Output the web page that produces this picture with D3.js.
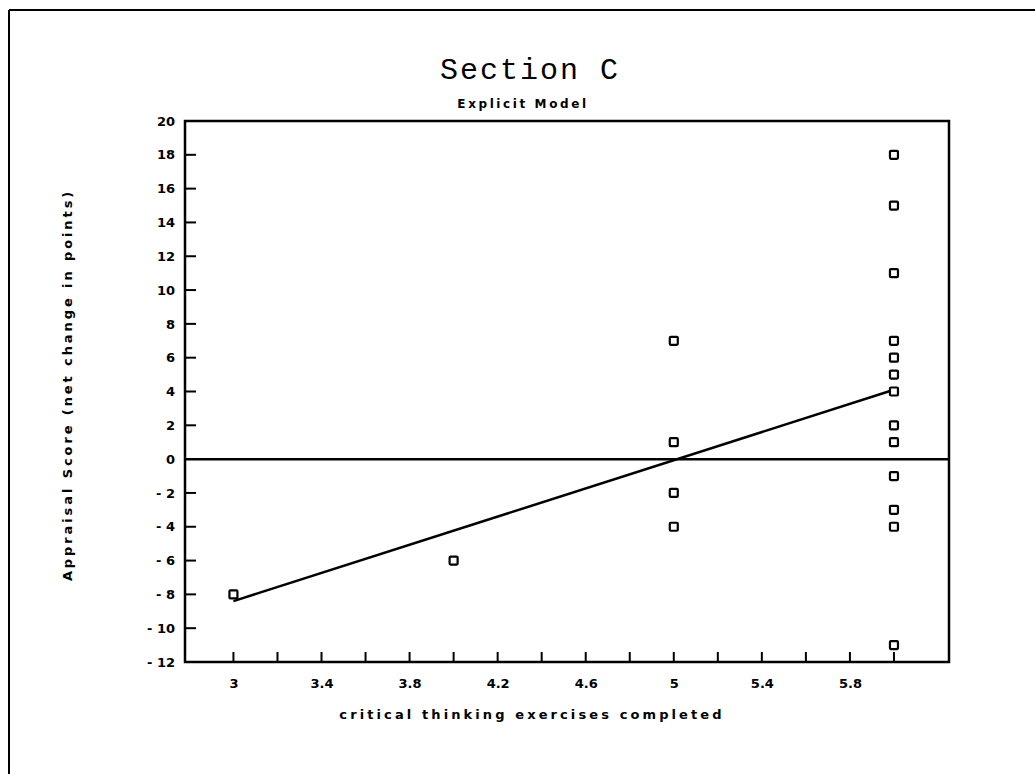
<!DOCTYPE html>
<html>
<head>
<meta charset="utf-8">
<script src="https://cdn.jsdelivr.net/npm/d3@7"></script>
<style>
  body { margin: 0; background: #fff; }
  text { fill: #000; }
</style>
</head>
<body>
<div id="chart"></div>
<script>
var WIDTH = 1035;
var HEIGHT = 774;

// data
var exercises = [3, 4, 5, 5, 5, 5, 6, 6, 6, 6, 6, 6, 6, 6, 6, 6, 6, 6, 6];
var scores = [-8, -6, 7, 1, -2, -4, 18, 15, 11, 7, 6, 5, 4, 2, 1, -1, -3, -4, -11];
var fitX = [3, 6];
var fitY = [-8.4, 4.1];
var xTickLabels = [3, 3.4, 3.8, 4.2, 4.6, 5, 5.4, 5.8];
var xMinorTicks = [3, 3.2, 3.4, 3.6, 3.8, 4, 4.2, 4.4, 4.6, 4.8, 5, 5.2, 5.4, 5.6, 5.8, 6];
var yTickLabels = [20, 18, 16, 14, 12, 10, 8, 6, 4, 2, 0, -2, -4, -6, -8, -10, -12];

var margin = {left: 185, top: 121, right: 949, bottom: 662};

var svg = d3.select("#chart").append("svg")
    .attr("width", WIDTH)
    .attr("height", HEIGHT);

var x = d3.scaleLinear().domain([2.78, 6.25]).range([margin.left, margin.right]);
var y = d3.scaleLinear().domain([-12, 20]).range([margin.bottom, margin.top]);

var labelFont = "'DejaVu Sans', sans-serif";

// outer border (runs off the page at right and bottom)
svg.append("line").attr("x1", 9).attr("y1", 10).attr("x2", 9).attr("y2", HEIGHT)
    .attr("stroke", "#000").attr("stroke-width", 2);
svg.append("line").attr("x1", 9).attr("y1", 10).attr("x2", WIDTH).attr("y2", 10)
    .attr("stroke", "#000").attr("stroke-width", 2);

// titles
svg.append("text")
    .attr("x", 530).attr("y", 79)
    .attr("text-anchor", "middle")
    .style("font-family", "'Liberation Mono', 'DejaVu Sans Mono', monospace")
    .style("font-size", "30px")
    .style("letter-spacing", "2px")
    .text("Section C");

svg.append("text")
    .attr("x", 523).attr("y", 108)
    .attr("text-anchor", "middle")
    .style("font-family", labelFont)
    .style("font-weight", "bold")
    .style("font-size", "12px")
    .style("letter-spacing", "2.6px")
    .text("Explicit Model");

// y axis
var yAxis = d3.axisLeft(y)
    .tickValues(yTickLabels)
    .tickSize(0)
    .tickPadding(10);

var gy = svg.append("g")
    .attr("transform", "translate(" + margin.left + ",0)")
    .call(yAxis);
gy.select(".domain").remove();
gy.selectAll("text")
    .style("font-family", labelFont)
    .style("font-weight", "bold")
    .style("font-size", "13px")
    .text(function(d) { return d < 0 ? "- " + Math.abs(d) : d; });

// inward y ticks
svg.append("g").selectAll("line")
    .data(yTickLabels.filter(function(d) { return d > -12 && d < 20 && d !== 0; }))
    .enter().append("line")
    .attr("x1", margin.left).attr("x2", margin.left + 11)
    .attr("y1", function(d) { return y(d); })
    .attr("y2", function(d) { return y(d); })
    .attr("stroke", "#000").attr("stroke-width", 2);

// x axis
var xAxis = d3.axisBottom(x)
    .tickValues(xTickLabels)
    .tickSize(0)
    .tickPadding(17)
    .tickFormat(function(d) { return d; });

var gx = svg.append("g")
    .attr("transform", "translate(0," + margin.bottom + ")")
    .call(xAxis);
gx.select(".domain").remove();
gx.selectAll("text")
    .style("font-family", labelFont)
    .style("font-weight", "bold")
    .style("font-size", "13px");

// inward x ticks
svg.append("g").selectAll("line")
    .data(xMinorTicks)
    .enter().append("line")
    .attr("x1", function(d) { return x(d); })
    .attr("x2", function(d) { return x(d); })
    .attr("y1", margin.bottom).attr("y2", margin.bottom - 10)
    .attr("stroke", "#000").attr("stroke-width", 2);

// plot frame
svg.append("rect")
    .attr("x", margin.left).attr("y", margin.top)
    .attr("width", margin.right - margin.left)
    .attr("height", margin.bottom - margin.top)
    .attr("fill", "none")
    .attr("stroke", "#000").attr("stroke-width", 2.5);

// zero line
svg.append("line")
    .attr("x1", margin.left).attr("x2", margin.right)
    .attr("y1", y(0)).attr("y2", y(0))
    .attr("stroke", "#000").attr("stroke-width", 2.5);

// fit line
var line = d3.line()
    .x(function(d) { return x(d[0]); })
    .y(function(d) { return y(d[1]); });

svg.append("path")
    .datum(d3.zip(fitX, fitY))
    .attr("d", line)
    .attr("fill", "none")
    .attr("stroke", "#000").attr("stroke-width", 2.5);

// points
svg.append("g").selectAll("rect")
    .data(d3.zip(exercises, scores))
    .enter().append("rect")
    .attr("x", function(d) { return x(d[0]) - 4; })
    .attr("y", function(d) { return y(d[1]) - 4; })
    .attr("width", 8).attr("height", 8)
    .attr("rx", 1)
    .attr("fill", "#fff")
    .attr("stroke", "#000").attr("stroke-width", 2.2);

// axis titles
svg.append("text")
    .attr("x", 532).attr("y", 719)
    .attr("text-anchor", "middle")
    .style("font-family", labelFont)
    .style("font-weight", "bold")
    .style("font-size", "13px")
    .style("letter-spacing", "3.1px")
    .text("critical thinking exercises completed");

svg.append("text")
    .attr("transform", "translate(72,385) rotate(-90)")
    .attr("text-anchor", "middle")
    .style("font-family", labelFont)
    .style("font-weight", "bold")
    .style("font-size", "13px")
    .style("letter-spacing", "2.9px")
    .text("Appraisal Score (net change in points)");
</script>
</body>
</html>
